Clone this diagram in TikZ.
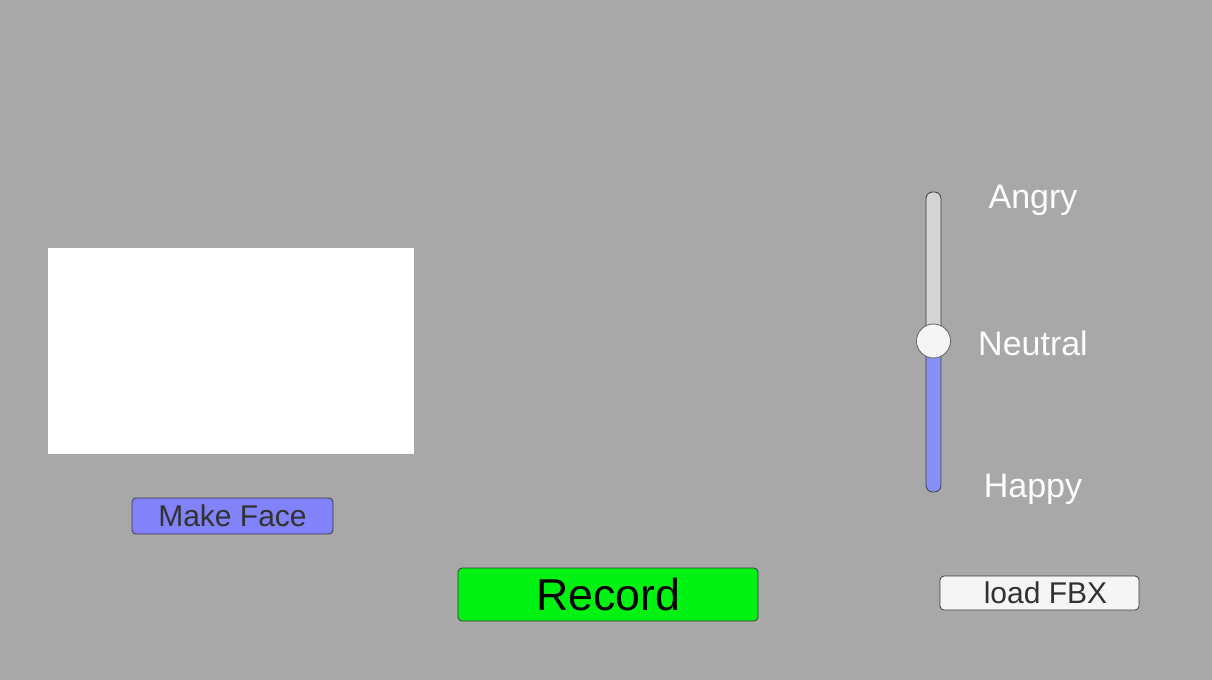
\documentclass[tikz,border=0pt]{standalone}
\usepackage{fontspec}
\setmainfont{Liberation Sans}
\definecolor{bg}{RGB}{168,168,168}
\definecolor{btnpurple}{RGB}{130,130,250}
\definecolor{sliderfill}{RGB}{136,144,248}
\definecolor{tracklight}{RGB}{212,212,212}
\definecolor{btngreen}{RGB}{0,242,18}
\definecolor{btnlight}{RGB}{245,245,245}
\definecolor{txtdark}{RGB}{50,50,50}
\definecolor{edge}{RGB}{60,60,60}
\tikzset{
  uibutton/.style={draw=edge, line width=0.6pt, rounded corners=3pt, inner sep=0pt, anchor=center},
  sliderlabel/.style={text=white, font=\fontsize{25.5}{29}\selectfont, inner sep=0pt, anchor=center},
}
\begin{document}
\begin{tikzpicture}[x=0.75pt,y=-0.75pt]
\useasboundingbox (0,0) rectangle (1212,680);
\fill[bg] (0,0) rectangle (1212,680);
% white panel
\node[fill=white, minimum width=274.5pt, minimum height=154.5pt, inner sep=0pt] (panel) at (231,351) {};
% Make Face button
\node[uibutton, fill=btnpurple, text=txtdark, minimum width=150.75pt, minimum height=27pt,
  font=\fontsize{22.5}{26}\selectfont] (makeface) at (232.5,516) {Make Face};
% Record button
\node[uibutton, fill=btngreen, text=black, minimum width=225pt, minimum height=39.75pt,
  font=\fontsize{33.5}{38}\selectfont] (record) at (608,594.5) {Record};
% load FBX button
\node[uibutton, fill=btnlight, minimum width=149.25pt, minimum height=25.5pt] (loadfbx) at (1039.5,593) {};
\node[text=txtdark, inner sep=0pt, font=\fontsize{22.5}{26}\selectfont] (loadfbxtext) at (1045.5,593) {load FBX};
% slider track
\fill[tracklight, rounded corners=5pt] (926,192) rectangle (941,492);
\begin{scope}
  \clip[rounded corners=5pt] (926,192) rectangle (941,492);
  \fill[sliderfill] (926,341) rectangle (941,492);
\end{scope}
\draw[edge, line width=0.6pt, rounded corners=5pt] (926,192) rectangle (941,492);
% handle
\node[circle, draw=edge!80, line width=0.6pt, fill=btnlight, minimum size=25.5pt, inner sep=0pt] (handle) at (933.5,341) {};
% labels
\node[sliderlabel] (angry) at (1033,200) {Angry};
\node[sliderlabel] (neutral) at (1033,343) {Neutral};
\node[sliderlabel] (happy) at (1033,489) {Happy};
\end{tikzpicture}
\end{document}
